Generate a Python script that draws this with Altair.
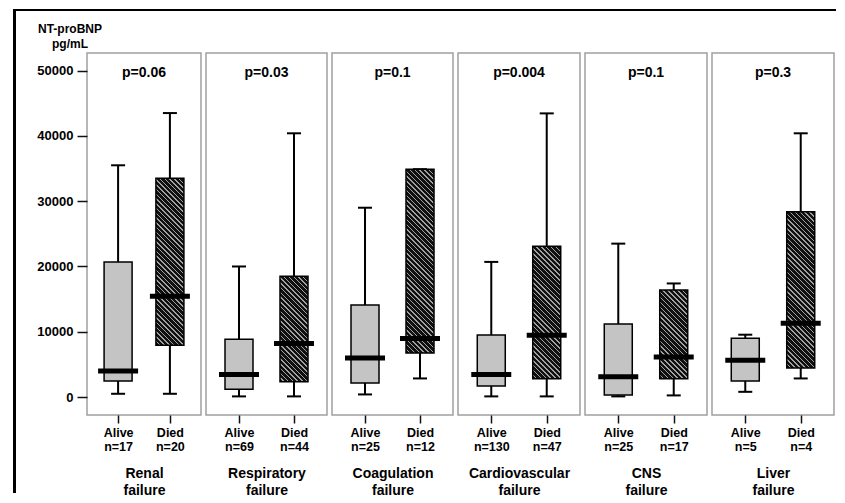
import math
import altair as alt
import pandas as pd

# ---------------- data ----------------
groups = ["Renal failure", "Respiratory failure", "Coagulation failure",
          "Cardiovascular failure", "CNS failure", "Liver failure"]
p_values = ["p=0.06", "p=0.03", "p=0.1", "p=0.004", "p=0.1", "p=0.3"]
n_alive = [17, 69, 25, 130, 25, 5]
n_died = [20, 44, 12, 47, 17, 4]

alive_low = [500, 100, 400, 100, 100, 800]
alive_q1 = [2450, 1200, 2150, 1700, 300, 2450]
alive_med = [4000, 3450, 6000, 3450, 3100, 5650]
alive_q3 = [20700, 8850, 14100, 9500, 11200, 9000]
alive_high = [35500, 20000, 29000, 20700, 23500, 9550]

died_low = [500, 100, 2850, 100, 250, 2850]
died_q1 = [7950, 2350, 6750, 2800, 2800, 4450]
died_med = [15450, 8200, 8950, 9450, 6150, 11300]
died_q3 = [33500, 18500, 34900, 23100, 16400, 28400]
died_high = [43500, 40400, 34900, 43450, 17400, 40400]

y_ticks = [0, 10000, 20000, 30000, 40000, 50000]
y_title = ["NT-proBNP", "pg/mL"]

# ---------------- layout / style ----------------
Y_MIN, Y_MAX = -2750, 52700
PLOT_H = 362
WIDTHS = [114, 121, 121, 122, 122, 122]
BOX_W = 28
FONT = "Liberation Sans"
ALIVE_FILL = "#c4c4c4"


def hatch(q1, q3, w=BOX_W, period=3.4, frac=0.7, dark="#101010", light="#a0a0a0"):
    """Diagonal '\\' stripes as a linear gradient in bounding-box units."""
    h = max((q3 - q1) * PLOT_H / (Y_MAX - Y_MIN), 1.0)
    s = (w + h) / (w * w + h * h)
    span = (w + h) / math.sqrt(2)
    n = max(1, int(round(span / period)))
    stops = []
    for k in range(n):
        a, b, c = k / n, (k + frac) / n, (k + 1) / n
        stops += [{"offset": a, "color": dark}, {"offset": b, "color": dark},
                  {"offset": b, "color": light}, {"offset": c, "color": light}]
    return {"gradient": "linear", "x1": 0, "y1": 1, "x2": s * w, "y2": 1 - s * h,
            "stops": stops}


def panel(i):
    labels = [f"Alive|n={n_alive[i]}", f"Died|n={n_died[i]}"]
    df = pd.DataFrame({
        "label": labels,
        "status": ["Alive", "Died"],
        "low": [alive_low[i], died_low[i]],
        "q1": [alive_q1[i], died_q1[i]],
        "med": [alive_med[i], died_med[i]],
        "q3": [alive_q3[i], died_q3[i]],
        "high": [alive_high[i], died_high[i]],
        "p": [p_values[i], p_values[i]],
    })
    first = i == 0
    w = WIDTHS[i]

    x = alt.X("label:N", sort=None,
              scale=alt.Scale(type="point", padding=0.6, domain=labels),
              axis=alt.Axis(title=groups[i].split(" "),
                            labelExpr="split(datum.label, '|')",
                            labelFont=FONT, labelFontSize=12.5, labelFontWeight="bold",
                            labelColor="black", labelLineHeight=14, labelPadding=3,
                            labelAngle=0,
                            tickSize=8, tickWidth=1.5, tickColor="#111",
                            domain=False, grid=False,
                            titleFont=FONT, titleFontSize=14, titleFontWeight="bold",
                            titleColor="black", titleLineHeight=16.5, titlePadding=14))
    yscale = alt.Scale(domain=[Y_MIN, Y_MAX], nice=False, zero=False)
    if first:
        yaxis = alt.Axis(values=y_ticks, format="d", title=y_title, grid=False,
                         domain=False,
                         labelFont=FONT, labelFontSize=13, labelFontWeight="bold",
                         labelColor="black", labelPadding=4,
                         tickSize=10, tickWidth=1.5, tickColor="#111",
                         titleFont=FONT, titleFontSize=12, titleFontWeight="bold",
                         titleColor="black", titleAngle=0, titleAlign="center",
                         titleBaseline="alphabetic", titleX=-17.5, titleY=-21,
                         titleLineHeight=15)
    else:
        yaxis = None

    def Y(f):
        return alt.Y(f, type="quantitative", scale=yscale, axis=yaxis)

    base = alt.Chart(df)
    whisk = base.mark_rule(color="black", strokeWidth=2).encode(
        x=x, y=Y("low"), y2="high:Q")
    cap_lo = base.mark_tick(size=14, thickness=2, color="black", opacity=1).encode(
        x=x, y=Y("low"))
    cap_hi = base.mark_tick(size=14, thickness=2, color="black", opacity=1).encode(
        x=x, y=Y("high"))
    box_alive = base.transform_filter("datum.status == 'Alive'").mark_bar(
        width=BOX_W, fill=ALIVE_FILL, stroke="black", strokeWidth=1.5).encode(
        x=x, y=Y("q1"), y2="q3:Q")
    box_died = base.transform_filter("datum.status == 'Died'").mark_bar(
        width=BOX_W, fill=hatch(died_q1[i], died_q3[i]), stroke="black",
        strokeWidth=1.5).encode(x=x, y=Y("q1"), y2="q3:Q")
    med = base.mark_tick(size=40, thickness=5, color="black", opacity=1).encode(
        x=x, y=Y("med"))
    ptext = base.transform_filter("datum.status == 'Alive'").mark_text(
        font=FONT, fontSize=14, fontWeight="bold", color="black",
        baseline="alphabetic", align="center").encode(
        x=alt.value(w / 2), y=alt.value(23.5), text="p:N")

    layers = [whisk, cap_lo, cap_hi, box_alive, box_died, med, ptext]

    if first:
        # outer picture frame (top and left edges), filled rects without stroke
        one = alt.Chart(pd.DataFrame({"k": [0]}))
        frame_top = one.mark_rect(color="black", opacity=1).encode(
            x=alt.value(-74), x2=alt.value(835 - 86),
            y=alt.value(-44), y2=alt.value(-42))
        frame_left = one.mark_rect(color="black", opacity=1).encode(
            x=alt.value(-74), x2=alt.value(-71),
            y=alt.value(-44), y2=alt.value(440))
        layers += [frame_top, frame_left]

    return alt.layer(*layers).properties(width=w, height=PLOT_H)


chart = alt.hconcat(*[panel(i) for i in range(len(groups))],
                    spacing=5, bounds="flush").properties(
    padding={"left": 4, "top": 0, "right": 0, "bottom": 0},
    background="white",
).configure_view(stroke="#a0a0a0", strokeWidth=1.5)

chart.save("out.html", embed_options={"renderer": "svg", "actions": False})
